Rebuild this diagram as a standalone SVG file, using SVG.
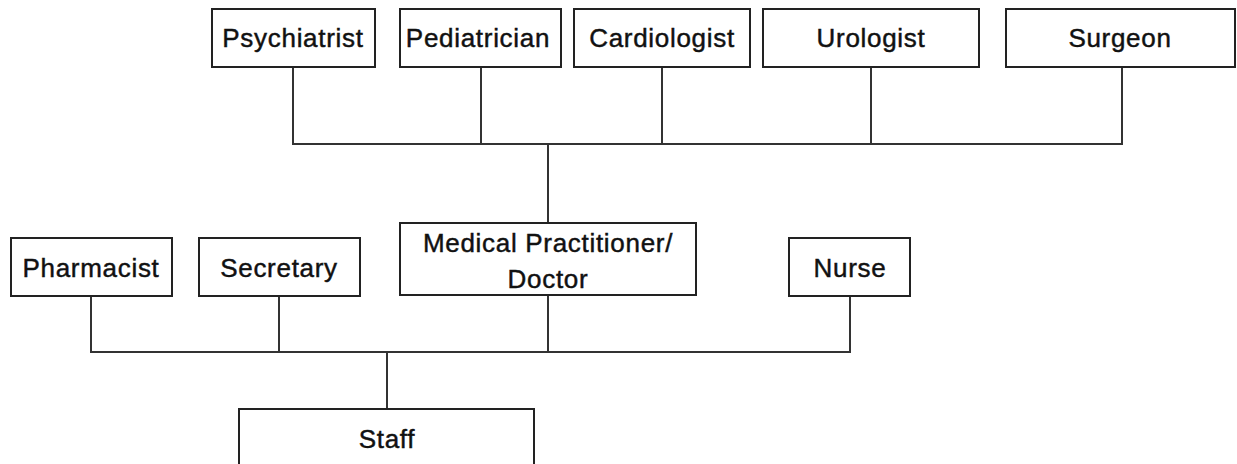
<svg xmlns="http://www.w3.org/2000/svg" width="1237" height="464" viewBox="0 0 1237 464">
<style>
.box{fill:#fff;stroke:#222;stroke-width:2}
.lbl{font-family:"Liberation Sans",Arial,sans-serif;font-size:26px;letter-spacing:0.7px;fill:#111;stroke:#111;stroke-width:0.45;text-anchor:middle}
.con{fill:none;stroke:#333;stroke-width:2}
</style>
<rect width="1237" height="464" fill="#fff"/>
<g id="connectors">
<polyline class="con" points="293,67 293,144 1122,144 1122,67"/>
<line class="con" x1="481" y1="67" x2="481" y2="144"/>
<line class="con" x1="662" y1="67" x2="662" y2="144"/>
<line class="con" x1="871" y1="67" x2="871" y2="144"/>
<line class="con" x1="548" y1="144" x2="548" y2="223"/>
<polyline class="con" points="91,296 91,352 850,352 850,296"/>
<line class="con" x1="279" y1="296" x2="279" y2="352"/>
<line class="con" x1="548" y1="296" x2="548" y2="352"/>
<line class="con" x1="387" y1="352" x2="387" y2="409"/>
</g>
<g id="psychiatrist"><rect class="box" x="212" y="9" width="163" height="58"/><text class="lbl" x="293" y="47">Psychiatrist</text></g>
<g id="pediatrician"><rect class="box" x="400" y="9" width="161" height="58"/><text class="lbl" x="478" y="47">Pediatrician</text></g>
<g id="cardiologist"><rect class="box" x="574" y="9" width="176" height="58"/><text class="lbl" x="662" y="47">Cardiologist</text></g>
<g id="urologist"><rect class="box" x="763" y="9" width="216" height="58"/><text class="lbl" x="871" y="47">Urologist</text></g>
<g id="surgeon"><rect class="box" x="1006" y="9" width="229" height="58"/><text class="lbl" x="1120" y="47">Surgeon</text></g>
<g id="medical-practitioner"><rect class="box" x="400" y="223" width="296" height="72"/><text class="lbl" x="548" y="252">Medical Practitioner/</text><text class="lbl" x="548" y="288">Doctor</text></g>
<g id="pharmacist"><rect class="box" x="11" y="238" width="161" height="58"/><text class="lbl" x="91" y="277">Pharmacist</text></g>
<g id="secretary"><rect class="box" x="199" y="238" width="161" height="58"/><text class="lbl" x="279" y="277">Secretary</text></g>
<g id="nurse"><rect class="box" x="789" y="238" width="121" height="58"/><text class="lbl" x="850" y="277">Nurse</text></g>
<g id="staff"><rect class="box" x="239" y="409" width="295" height="70"/><text class="lbl" x="387" y="448">Staff</text></g>
</svg>
